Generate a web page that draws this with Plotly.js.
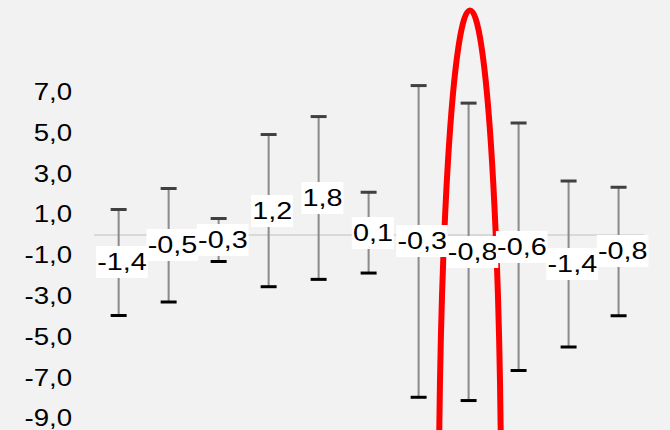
<!DOCTYPE html>
<html><head><meta charset="utf-8">
<script src="https://cdn.plot.ly/plotly-3.0.1.min.js"></script>
<style>
html,body{margin:0;padding:0;background:#f2f2f2;overflow:hidden;}
#wrap{width:670px;height:430px;overflow:hidden;}
#chart{width:558px;height:430px;transform:scaleX(1.2007);transform-origin:0 0;}
</style></head><body>
<div id="wrap"><div id="chart"></div></div>
<script>
// ---- data ----
const categories = ['1','2','3','4','5','6','7','8','9','10','11'];
const means  = [-1.36, -0.52, -0.26, 1.18, 1.80, 0.10, -0.33, -0.84, -0.59, -1.44, -0.82];
const errors = [ 2.60,  2.78,  1.06, 3.73, 3.99, 1.98,  7.64,  7.29,  6.07,  4.07,  3.15];
const tickVals = [-9, -7, -5, -3, -1, 1, 3, 5, 7];
const tickText = ['-9,0','-7,0','-5,0','-3,0','-1,0','1,0','3,0','5,0','7,0'];

// ---- derived ----
const upper = means.map((m, i) => m + errors[i]);
const lower = means.map((m, i) => m - errors[i]);
const fmt = v => v.toFixed(1).replace('.', ',');
const FONT = 'Liberation Sans, Arial, sans-serif';

const stems = {
  x: categories, y: means, type: 'scatter', mode: 'markers',
  marker: {size: 1, color: 'rgba(0,0,0,0)'},
  error_y: {type: 'data', array: errors, symmetric: true, color: '#8c8c8c', thickness: 1.7, width: 0},
  hoverinfo: 'skip', showlegend: false
};
const topCaps = {
  x: categories, y: upper, type: 'scatter', mode: 'markers',
  marker: {symbol: 'line-ew', size: 9.5, color: '#404040', line: {width: 3, color: '#404040'}},
  hoverinfo: 'skip', showlegend: false
};
const botCaps = {
  x: categories, y: lower, type: 'scatter', mode: 'markers',
  marker: {symbol: 'line-ew', size: 9.5, color: '#000000', line: {width: 3, color: '#000000'}},
  hoverinfo: 'skip', showlegend: false
};

const annotations = categories.map((c, i) => ({
  x: i, y: means[i], xref: 'x', yref: 'y', text: fmt(means[i]), showarrow: false,
  bgcolor: '#ffffff', borderpad: 1, borderwidth: 0, height: 30, xshift: 3,
  font: {family: FONT, size: 24, color: '#000000'}
}));

const layout = {
  width: 558, height: 430,
  margin: {l: 78, r: 22, t: 0, b: 0},
  paper_bgcolor: '#f2f2f2', plot_bgcolor: '#f2f2f2',
  showlegend: false,
  xaxis: {type: 'category', range: [-0.5, 10.5], showticklabels: false, showgrid: false,
          zeroline: false, showline: false, ticks: ''},
  yaxis: {range: [-9.574, 11.505], tickvals: tickVals, ticktext: tickText, showgrid: false,
          zeroline: true, zerolinecolor: '#d9d9d9', zerolinewidth: 2, showline: false, ticks: '',
          ticklabelstandoff: 17, ticklabeloverflow: 'allow',
          tickfont: {family: FONT, size: 23, color: '#000000'}},
  annotations: annotations,
  shapes: [{type: 'circle', xref: 'paper', yref: 'paper', x0: 0.6276, x1: 0.7411, y0: -1.437, y1: 0.9767,
            line: {color: '#ff0000', width: 5}, layer: 'above'}]
};

Plotly.newPlot('chart', [stems, topCaps, botCaps], layout, {staticPlot: true, displayModeBar: false})
  .then(gd => {
    const svg = gd.querySelector('.main-svg');
    const la = svg && svg.querySelector('.layer-above');
    if (la) svg.appendChild(la);
  });
</script>
</body></html>
